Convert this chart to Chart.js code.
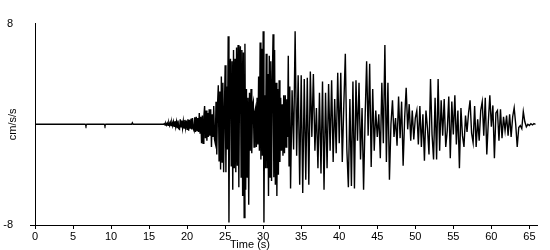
<!DOCTYPE html>
<html>
<head>
<meta charset="utf-8">
<script src="https://cdn.jsdelivr.net/npm/chart.js@4.4.1/dist/chart.umd.min.js"></script>
<style>
  html, body { margin: 0; padding: 0; background: #fff; }
  #wrap { width: 550px; height: 250px; }
</style>
</head>
<body>
<div id="wrap"><canvas id="quake" width="550" height="250"></canvas></div>
<script>
// acceleration record (cm/s/s)
// quiet part before the P arrival: flat with three tiny blips
const quietTimes = [0, 6.6, 6.7, 6.8, 9.1, 9.2, 9.3, 12.7, 12.8, 12.9, 16.9];
const quietAccel = [0, 0, -0.12, 0, 0, -0.12, 0, 0, 0.12, 0, 0];

// strong shaking: 17.0 .. 33.6 s, every 0.1 s
const strongStart = 17.0, strongStep = 0.1;
const strongAccel = [
  0.05, -0.05, 0.08, -0.06, 0.1, -0.08, 0.12, -0.1, 0.15, -0.1,
  0.15, -0.12, 0.2, -0.15, 0.25, -0.2, 0.2, -0.25, 0.3, -0.35,
  -0.4, 0.4, -0.2, 0.3, -0.3, 0.25, -0.3, 0.35, -0.25, 0.3,
  -0.4, 0.4, -0.5, 0.35, -0.3, 0.45, -0.4, 0.5, -0.35, -0.5,
  0.55, -0.6, 0.6, -0.5, 0.5, -0.6, 0.9, -0.7, 0.6, -1.5,
  0.7, -1.5, 0.6, 1.45, -1.1, 1.1, -1.3, 0.9, -1.0, 1.2,
  -0.9, 1.2, -1.8, 0.8, -1.0, 1.45, -1.2, -1.5, 1.8, -2.4,
  1.6, 3.1, -2.9, 2.6, -3.6, 3.8, -3.0, 3.3, -3.8, 1.0,
  4.7, -3.8, 3.0, -2.0, 7.0, -7.8, 4.0, 5.2, -3.3, 5.0,
  -5.2, 5.9, -3.5, 5.2, -3.8, 6.1, -3.3, 6.3, -5.0, 4.0,
  6.2, -4.2, 5.9, -5.7, 5.7, -7.4, 6.4, -5.2, 2.8, -4.2,
  2.1, -6.4, 2.5, -2.1, 2.8, -2.3, 1.5, 1.8, -1.8, 1.0,
  1.3, -1.8, 2.1, -1.6, 3.8, -2.1, 6.5, -2.8, 6.0, -2.5,
  7.4, -7.8, 2.3, -3.5, 5.6, -3.5, 4.0, -5.7, 5.45, -4.2,
  5.0, -4.5, 3.5, 7.15, -4.2, 5.9, -4.8, 3.3, -5.7, 2.8,
  -4.0, 3.5, -3.0, 2.1, -2.1, 1.6, -2.5, 2.3, -2.3, 2.3,
  -1.8, 2.0, -1.0, 5.45, -3.3, 3.0, -5.1
];

// coda: 33.8 .. 65.8 s, every 0.2 s
const codaStart = 33.8, codaStep = 0.2;
const codaAccel = [
  2.7, -2.0, 7.4, -2.5, 3.9, -4.8, 3.9, -5.45, 3.6, -4.4,
  3.7, -4.8, 4.2, -1.0, 4.0, -2.1, 1.3, -3.5, 2.5, -3.9,
  3.4, -5.2, 2.5, -3.5, 3.2, -2.1, 3.5, -3.0, 2.0, -2.3,
  4.1, -1.5, 4.1, -3.0, 1.5, 5.6, -2.0, -5.0, 2.0, -4.9,
  3.4, -5.1, 3.5, -1.3, 3.3, -2.8, 1.3, -5.2, 0.5, 5.0,
  -0.9, 4.8, -3.4, 2.8, -2.1, 1.1, -1.0, 0.8, -2.7, 3.3,
  -1.5, 6.3, -3.0, 3.3, -4.4, 0.0, 1.9, -1.0, 0.5, -1.7,
  2.2, -1.1, 1.8, -3.3, 0.5, 2.9, -0.4, 1.6, -1.3, 1.1,
  -1.2, 0.5, 1.1, -1.6, 1.45, -1.8, 0.8, -2.9, 1.1, -0.3,
  -2.4, 3.6, -0.8, -2.8, 2.1, -2.8, 3.6, -2.1, 1.9, -0.9,
  2.0, -1.8, -0.5, 2.2, -2.7, 1.8, -0.8, 2.3, -1.6, 1.1,
  -3.5, 1.3, -0.9, -1.8, 0.7, -0.6, 0.9, 1.9, -0.7, -1.45,
  1.45, -1.8, 0.4, -1.3, 1.1, 1.8, -0.9, 2.1, -2.4, 0.2,
  2.3, -0.2, 1.5, -2.7, 0.9, 1.1, -1.3, 1.2, -1.1, 0.6,
  -0.5, 0.7, -0.9, 0.8, -1.0, 0.6, 1.3, 0.0, -1.8, -0.25,
  -0.1, -0.35, 1.0, 0.2, -0.2, 0.0, -0.1, 0.05, -0.05, 0.05,
  0.0
];

const xTicks = [0, 5, 10, 15, 20, 25, 30, 35, 40, 45, 50, 55, 60, 65];
const yTicks = [-8, 8];

const FONT = 'Liberation Sans, Arial, sans-serif';

// turn a block into {x, y} points on its sample grid
function toPoints(start, step, values) {
  return values.map((v, i) => ({ x: +(start + i * step).toFixed(2), y: v }));
}

const points = [
  ...quietTimes.map((t, i) => ({ x: t, y: quietAccel[i] })),
  ...toPoints(strongStart, strongStep, strongAccel),
  ...toPoints(codaStart, codaStep, codaAccel)
];

// x title sits a bit left of the plot centre in the original
const timeTitle = {
  id: 'timeTitle',
  afterDraw(chart) {
    const ctx = chart.ctx;
    ctx.save();
    ctx.font = '11px ' + FONT;
    ctx.fillStyle = '#000';
    ctx.textAlign = 'center';
    ctx.textBaseline = 'middle';
    ctx.fillText('Time (s)', 250, 245);
    ctx.restore();
  }
};

new Chart(document.getElementById('quake'), {
  type: 'line',
  data: {
    datasets: [{
      data: points,
      borderColor: '#000',
      borderWidth: 1.4,
      pointRadius: 0,
      tension: 0,
      fill: false
    }]
  },
  options: {
    responsive: false,
    animation: false,
    events: [],
    layout: { padding: { top: 5, right: 13, left: 0, bottom: 0 } },
    plugins: { legend: { display: false }, tooltip: { enabled: false } },
    scales: {
      x: {
        type: 'linear',
        min: 0,
        max: 66,
        afterBuildTicks: (scale) => { scale.ticks = xTicks.map(v => ({ value: v })); },
        afterFit: (scale) => { scale.height = 25; },
        ticks: {
          color: '#000',
          font: { family: FONT, size: 11 },
          padding: 1,
          maxRotation: 0,
          autoSkip: false
        },
        grid: { drawOnChartArea: false, tickLength: 4, color: '#000' },
        border: { color: '#000', width: 1 }
      },
      y: {
        type: 'linear',
        min: -8,
        max: 8,
        afterBuildTicks: (scale) => { scale.ticks = yTicks.map(v => ({ value: v })); },
        afterFit: (scale) => { scale.width = 35; },
        ticks: {
          color: '#000',
          font: { family: FONT, size: 11 },
          padding: 17,
          crossAlign: 'near'
        },
        grid: {
          drawOnChartArea: false,
          tickLength: 5,
          tickColor: (ctx) => (ctx.tick && ctx.tick.value === -8 ? '#000' : 'rgba(0,0,0,0)')
        },
        border: { color: '#000', width: 1 },
        title: {
          display: true,
          text: 'cm/s/s',
          color: '#000',
          font: { family: FONT, size: 11 },
          padding: { top: 6, bottom: 0 }
        }
      }
    }
  },
  plugins: [timeTitle]
});
</script>
</body>
</html>
